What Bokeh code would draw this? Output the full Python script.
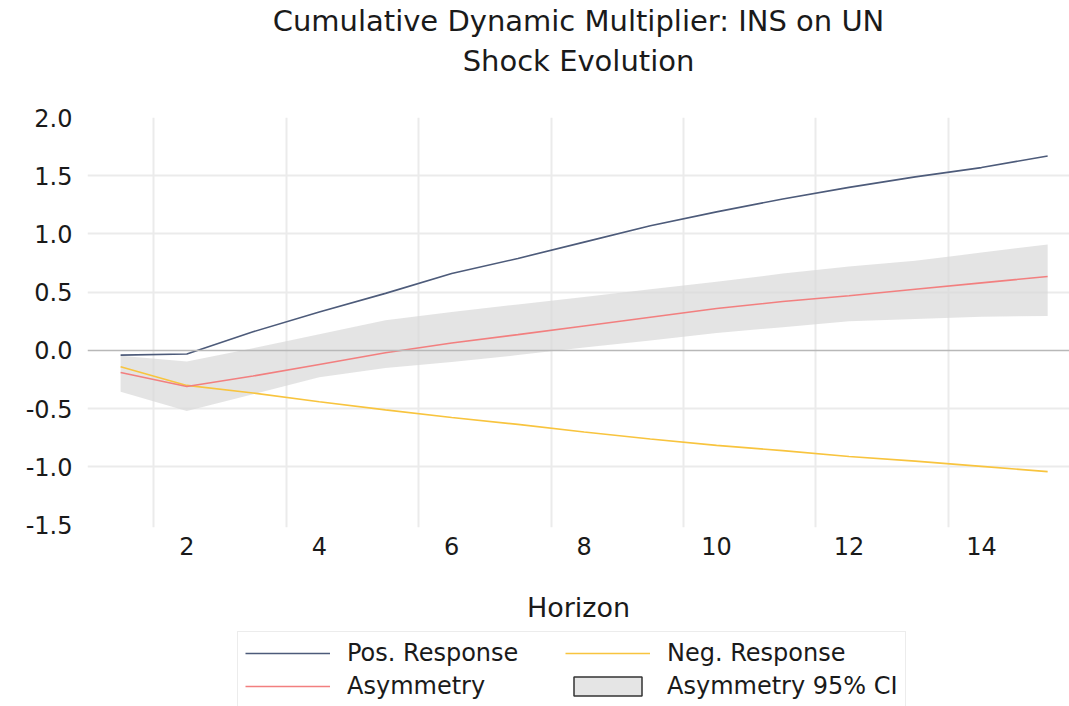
from bokeh.plotting import figure
from bokeh.layouts import column
from bokeh.models import Range1d, FixedTicker, Legend, LegendItem, Span, Title
from bokeh.embed import file_html
from bokeh.resources import INLINE

horizon = list(range(1, 16))
pos_response = [-0.04, -0.03, 0.16, 0.33, 0.49, 0.66, 0.79, 0.93, 1.07, 1.19, 1.30, 1.40, 1.49, 1.57, 1.67]
neg_response = [-0.14, -0.30, -0.365, -0.44, -0.51, -0.575, -0.635, -0.70, -0.76, -0.815, -0.86, -0.91, -0.95, -0.995, -1.04]
asymmetry = [-0.19, -0.31, -0.22, -0.12, -0.02, 0.064, 0.136, 0.21, 0.285, 0.36, 0.42, 0.47, 0.525, 0.58, 0.635]
ci_upper = [-0.045, -0.095, 0.02, 0.14, 0.26, 0.33, 0.395, 0.46, 0.525, 0.59, 0.66, 0.72, 0.77, 0.84, 0.91]
ci_lower = [-0.355, -0.52, -0.375, -0.23, -0.15, -0.10, -0.04, 0.025, 0.085, 0.15, 0.20, 0.25, 0.27, 0.29, 0.295]

x_tick_values = [2, 4, 6, 8, 10, 12, 14]
x_grid_values = [1.5, 3.5, 5.5, 7.5, 9.5, 11.5, 13.5]
y_tick_values = [-1.5, -1.0, -0.5, 0.0, 0.5, 1.0, 1.5, 2.0]
y_tick_labels = ["-1.5", "-1.0", "-0.5", "0.0", "0.5", "1.0", "1.5", "2.0"]
y_grid_values = [-1.0, -0.5, 0.5, 1.0, 1.5]

series_labels = ["Pos. Response", "Neg. Response", "Asymmetry", "Asymmetry 95% CI"]
title_1 = "Cumulative Dynamic Multiplier: INS on UN"
title_2 = "Shock Evolution"

FONT = "DejaVu Sans"
TEXT = "#1a1a1a"
POS_COLOR = "#4d5b7a"
NEG_COLOR = "#f8c43e"
ASY_COLOR = "#f27f7f"
BAND_FILL = "#d9d9d9"

# ---------------- main chart ----------------
p = figure(width=1069, height=627,
           x_range=Range1d(0.5, 15.33), y_range=Range1d(-1.52, 2.0),
           output_backend="svg", toolbar_location=None,
           min_border_left=87, min_border_right=0, min_border_top=117,
           min_border_bottom=100)
p.outline_line_color = None
p.background_fill_color = "white"

# stacked outward from the plot frame: spacer, second line, first line
p.add_layout(Title(text=" ", align="center", text_font=FONT, text_font_size="10px",
                   text_color=TEXT, standoff=23), "above")
p.add_layout(Title(text=title_2, align="center", text_font=FONT, text_font_size="29px",
                   text_font_style="normal", text_color=TEXT, standoff=8), "above")
p.add_layout(Title(text=title_1, align="center", text_font=FONT, text_font_size="29px",
                   text_font_style="normal", text_color=TEXT, standoff=0), "above")

p.xgrid.ticker = FixedTicker(ticks=x_grid_values)
p.ygrid.ticker = FixedTicker(ticks=y_grid_values)
for g in (p.xgrid, p.ygrid):
    g.grid_line_color = "#ebebeb"
    g.grid_line_width = 2

p.xaxis.ticker = FixedTicker(ticks=x_tick_values)
p.yaxis.ticker = FixedTicker(ticks=y_tick_values)
p.yaxis.major_label_overrides = {v: s for v, s in zip(y_tick_values, y_tick_labels)}
for ax in (p.xaxis, p.yaxis):
    ax.axis_line_color = None
    ax.major_tick_line_color = None
    ax.minor_tick_line_color = None
    ax.major_tick_out = 0
    ax.major_tick_in = 0
    ax.major_label_text_font = FONT
    ax.major_label_text_font_size = "24px"
    ax.major_label_text_color = TEXT
p.yaxis.major_label_standoff = 15
p.xaxis.major_label_standoff = 9
p.xaxis.axis_label = "Horizon"
p.xaxis.axis_label_text_font = FONT
p.xaxis.axis_label_text_font_size = "27px"
p.xaxis.axis_label_text_font_style = "normal"
p.xaxis.axis_label_text_color = TEXT
p.xaxis.axis_label_standoff = 34

p.varea(x=horizon, y1=ci_lower, y2=ci_upper, fill_color=BAND_FILL, fill_alpha=0.7)
p.add_layout(Span(location=0, dimension="width", line_color="#b8b8b8", line_width=1.5))
p.line(horizon, pos_response, line_color=POS_COLOR, line_width=1.6)
p.line(horizon, neg_response, line_color=NEG_COLOR, line_width=1.6)
p.line(horizon, asymmetry, line_color=ASY_COLOR, line_width=1.6)

# ---------------- legend strip ----------------
lg = figure(width=1069, height=79, x_range=Range1d(-20, -19), y_range=Range1d(-20, -19),
            output_backend="svg", toolbar_location=None,
            x_axis_location=None, y_axis_location=None,
            min_border_left=0, min_border_right=0, min_border_top=0, min_border_bottom=0)
lg.outline_line_color = None
lg.xgrid.visible = False
lg.ygrid.visible = False
# same series drawn off-view; they only feed the legend swatches
l_pos = lg.line(horizon, pos_response, line_color=POS_COLOR, line_width=1.6)
l_neg = lg.line(horizon, neg_response, line_color=NEG_COLOR, line_width=1.6)
l_asy = lg.line(horizon, asymmetry, line_color=ASY_COLOR, line_width=1.6)
l_ci = lg.quad(left=horizon[:1], right=horizon[1:2], bottom=ci_lower[:1], top=ci_upper[:1],
               fill_color="#e5e5e5", line_color="#333333", line_width=1.5)

legend = Legend(items=[
    LegendItem(label=series_labels[0], renderers=[l_pos]),
    LegendItem(label=series_labels[1], renderers=[l_neg]),
    LegendItem(label=series_labels[2], renderers=[l_asy]),
    LegendItem(label=series_labels[3], renderers=[l_ci]),
], location=(150, -2), orientation="horizontal", ncols=2,
   glyph_width=85, glyph_height=24, label_standoff=17, label_width=213, label_height=24,
   spacing=5, padding=7, margin=0,
   border_line_color="#d9d9d9", border_line_width=1.5,
   label_text_font=FONT, label_text_font_size="24px", label_text_color=TEXT,
   background_fill_alpha=1.0)
lg.add_layout(legend, "center")

open("out.html", "w").write(file_html(column(p, lg, spacing=0), INLINE))
